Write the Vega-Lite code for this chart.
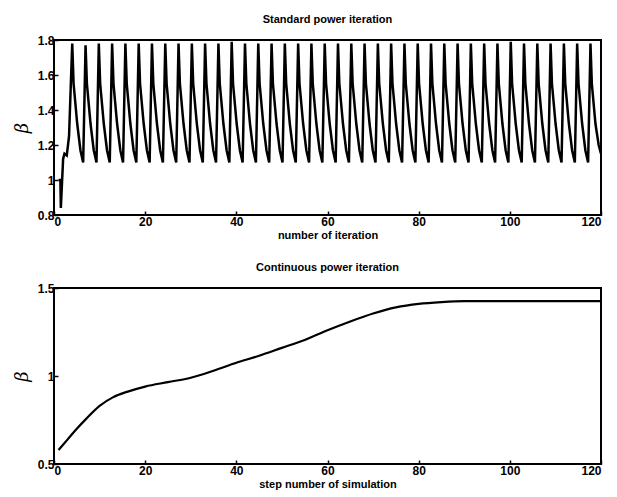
{
  "$schema": "https://vega.github.io/schema/vega-lite/v6.json",
  "background": "white",
  "padding": {"left": 12, "top": 13, "right": 4, "bottom": 0},
  "config": {
    "view": {"stroke": "black", "strokeWidth": 2},
    "font": "Liberation Sans",
    "axis": {
      "grid": false, "domain": false,
      "labelFont": "Liberation Sans", "labelFontWeight": "bold", "labelFontSize": 12, "labelColor": "black",
      "tickColor": "black", "tickSize": -4, "tickWidth": 1.5,
      "titleColor": "black", "titleFont": "Liberation Sans", "titleFontWeight": "bold", "titleFontSize": 11
    },
    "axisY": {"titleFont": "DejaVu Serif", "titleFontStyle": "italic", "titleFontSize": 18, "titleFontWeight": "normal", "titlePadding": 6, "labelPadding": 4},
    "axisX": {"titlePadding": 2, "labelPadding": 5},
    "title": {"fontSize": 11, "fontWeight": "bold", "color": "black", "font": "Liberation Sans", "offset": 9},
    "concat": {"spacing": 20}
  },
  "vconcat": [
    {
      "width": 547, "height": 175,
      "title": "Standard power iteration",
      "data": {"values": [
        {"x": 1.0, "y": 1.0}, {"x": 1.4, "y": 1.0}, {"x": 1.5, "y": 0.84}, {"x": 2.0, "y": 1.12}, {"x": 2.3, "y": 1.15}, {"x": 2.8, "y": 1.14}, {"x": 3.3, "y": 1.25},
        {"x": 4.00, "y": 1.78}, {"x": 4.30, "y": 1.55}, {"x": 5.10, "y": 1.32}, {"x": 5.80, "y": 1.17}, {"x": 6.40, "y": 1.10},
        {"x": 6.92, "y": 1.77}, {"x": 7.22, "y": 1.55}, {"x": 8.02, "y": 1.32}, {"x": 8.72, "y": 1.17}, {"x": 9.32, "y": 1.10},
        {"x": 9.83, "y": 1.78}, {"x": 10.13, "y": 1.55}, {"x": 10.93, "y": 1.32}, {"x": 11.63, "y": 1.17}, {"x": 12.23, "y": 1.10},
        {"x": 12.75, "y": 1.78}, {"x": 13.05, "y": 1.55}, {"x": 13.85, "y": 1.32}, {"x": 14.55, "y": 1.17}, {"x": 15.15, "y": 1.10},
        {"x": 15.66, "y": 1.78}, {"x": 15.96, "y": 1.55}, {"x": 16.76, "y": 1.32}, {"x": 17.46, "y": 1.17}, {"x": 18.06, "y": 1.10},
        {"x": 18.58, "y": 1.78}, {"x": 18.88, "y": 1.55}, {"x": 19.68, "y": 1.32}, {"x": 20.38, "y": 1.17}, {"x": 20.98, "y": 1.10},
        {"x": 21.49, "y": 1.78}, {"x": 21.79, "y": 1.55}, {"x": 22.59, "y": 1.32}, {"x": 23.29, "y": 1.17}, {"x": 23.89, "y": 1.10},
        {"x": 24.41, "y": 1.78}, {"x": 24.71, "y": 1.55}, {"x": 25.51, "y": 1.32}, {"x": 26.21, "y": 1.17}, {"x": 26.81, "y": 1.10},
        {"x": 27.32, "y": 1.78}, {"x": 27.62, "y": 1.55}, {"x": 28.42, "y": 1.32}, {"x": 29.12, "y": 1.17}, {"x": 29.72, "y": 1.10},
        {"x": 30.24, "y": 1.78}, {"x": 30.54, "y": 1.55}, {"x": 31.34, "y": 1.32}, {"x": 32.04, "y": 1.17}, {"x": 32.64, "y": 1.10},
        {"x": 33.15, "y": 1.78}, {"x": 33.45, "y": 1.55}, {"x": 34.25, "y": 1.32}, {"x": 34.95, "y": 1.17}, {"x": 35.55, "y": 1.10},
        {"x": 36.07, "y": 1.78}, {"x": 36.37, "y": 1.55}, {"x": 37.17, "y": 1.32}, {"x": 37.87, "y": 1.17}, {"x": 38.47, "y": 1.10},
        {"x": 38.98, "y": 1.79}, {"x": 39.28, "y": 1.55}, {"x": 40.08, "y": 1.32}, {"x": 40.78, "y": 1.17}, {"x": 41.38, "y": 1.10},
        {"x": 41.90, "y": 1.78}, {"x": 42.20, "y": 1.55}, {"x": 43.00, "y": 1.32}, {"x": 43.70, "y": 1.17}, {"x": 44.30, "y": 1.10},
        {"x": 44.81, "y": 1.78}, {"x": 45.11, "y": 1.55}, {"x": 45.91, "y": 1.32}, {"x": 46.61, "y": 1.17}, {"x": 47.21, "y": 1.10},
        {"x": 47.73, "y": 1.78}, {"x": 48.03, "y": 1.55}, {"x": 48.83, "y": 1.32}, {"x": 49.53, "y": 1.17}, {"x": 50.13, "y": 1.10},
        {"x": 50.64, "y": 1.78}, {"x": 50.94, "y": 1.55}, {"x": 51.74, "y": 1.32}, {"x": 52.44, "y": 1.17}, {"x": 53.04, "y": 1.10},
        {"x": 53.56, "y": 1.78}, {"x": 53.86, "y": 1.55}, {"x": 54.66, "y": 1.32}, {"x": 55.36, "y": 1.17}, {"x": 55.96, "y": 1.10},
        {"x": 56.47, "y": 1.78}, {"x": 56.77, "y": 1.55}, {"x": 57.57, "y": 1.32}, {"x": 58.27, "y": 1.17}, {"x": 58.87, "y": 1.10},
        {"x": 59.39, "y": 1.78}, {"x": 59.69, "y": 1.55}, {"x": 60.49, "y": 1.32}, {"x": 61.19, "y": 1.17}, {"x": 61.79, "y": 1.10},
        {"x": 62.30, "y": 1.78}, {"x": 62.60, "y": 1.55}, {"x": 63.40, "y": 1.32}, {"x": 64.10, "y": 1.17}, {"x": 64.70, "y": 1.10},
        {"x": 65.22, "y": 1.78}, {"x": 65.52, "y": 1.55}, {"x": 66.32, "y": 1.32}, {"x": 67.02, "y": 1.17}, {"x": 67.62, "y": 1.10},
        {"x": 68.13, "y": 1.78}, {"x": 68.43, "y": 1.55}, {"x": 69.23, "y": 1.32}, {"x": 69.93, "y": 1.17}, {"x": 70.53, "y": 1.10},
        {"x": 71.05, "y": 1.78}, {"x": 71.35, "y": 1.55}, {"x": 72.15, "y": 1.32}, {"x": 72.85, "y": 1.17}, {"x": 73.45, "y": 1.10},
        {"x": 73.96, "y": 1.78}, {"x": 74.26, "y": 1.55}, {"x": 75.06, "y": 1.32}, {"x": 75.76, "y": 1.17}, {"x": 76.36, "y": 1.10},
        {"x": 76.88, "y": 1.78}, {"x": 77.18, "y": 1.55}, {"x": 77.98, "y": 1.32}, {"x": 78.68, "y": 1.17}, {"x": 79.28, "y": 1.10},
        {"x": 79.79, "y": 1.78}, {"x": 80.09, "y": 1.55}, {"x": 80.89, "y": 1.32}, {"x": 81.59, "y": 1.17}, {"x": 82.19, "y": 1.10},
        {"x": 82.71, "y": 1.78}, {"x": 83.01, "y": 1.55}, {"x": 83.81, "y": 1.32}, {"x": 84.51, "y": 1.17}, {"x": 85.11, "y": 1.10},
        {"x": 85.62, "y": 1.78}, {"x": 85.92, "y": 1.55}, {"x": 86.72, "y": 1.32}, {"x": 87.42, "y": 1.17}, {"x": 88.02, "y": 1.10},
        {"x": 88.54, "y": 1.78}, {"x": 88.84, "y": 1.55}, {"x": 89.64, "y": 1.32}, {"x": 90.34, "y": 1.17}, {"x": 90.94, "y": 1.10},
        {"x": 91.45, "y": 1.78}, {"x": 91.75, "y": 1.55}, {"x": 92.55, "y": 1.32}, {"x": 93.25, "y": 1.17}, {"x": 93.85, "y": 1.10},
        {"x": 94.37, "y": 1.78}, {"x": 94.67, "y": 1.55}, {"x": 95.47, "y": 1.32}, {"x": 96.17, "y": 1.17}, {"x": 96.77, "y": 1.10},
        {"x": 97.28, "y": 1.78}, {"x": 97.58, "y": 1.55}, {"x": 98.38, "y": 1.32}, {"x": 99.08, "y": 1.17}, {"x": 99.68, "y": 1.10},
        {"x": 100.20, "y": 1.79}, {"x": 100.50, "y": 1.55}, {"x": 101.30, "y": 1.32}, {"x": 102.00, "y": 1.17}, {"x": 102.60, "y": 1.10},
        {"x": 103.11, "y": 1.78}, {"x": 103.41, "y": 1.55}, {"x": 104.21, "y": 1.32}, {"x": 104.91, "y": 1.17}, {"x": 105.51, "y": 1.10},
        {"x": 106.03, "y": 1.78}, {"x": 106.33, "y": 1.55}, {"x": 107.13, "y": 1.32}, {"x": 107.83, "y": 1.17}, {"x": 108.43, "y": 1.10},
        {"x": 108.94, "y": 1.78}, {"x": 109.24, "y": 1.55}, {"x": 110.04, "y": 1.32}, {"x": 110.74, "y": 1.17}, {"x": 111.34, "y": 1.10},
        {"x": 111.86, "y": 1.78}, {"x": 112.16, "y": 1.55}, {"x": 112.96, "y": 1.32}, {"x": 113.66, "y": 1.17}, {"x": 114.26, "y": 1.10},
        {"x": 114.77, "y": 1.78}, {"x": 115.07, "y": 1.55}, {"x": 115.87, "y": 1.32}, {"x": 116.57, "y": 1.17}, {"x": 117.17, "y": 1.10},
        {"x": 117.69, "y": 1.78}, {"x": 117.99, "y": 1.55}, {"x": 118.79, "y": 1.32}, {"x": 119.49, "y": 1.20}, {"x": 120.0, "y": 1.15}
      ]},
      "mark": {"type": "line", "color": "black", "strokeWidth": 2.5, "clip": true},
      "encoding": {
        "x": {"field": "x", "type": "quantitative", "scale": {"domain": [0, 120], "nice": false},
              "axis": {"values": [0, 20, 40, 60, 80, 100, 120], "format": "d", "title": "number of iteration"}},
        "y": {"field": "y", "type": "quantitative", "scale": {"domain": [0.8, 1.8], "nice": false, "zero": false},
              "axis": {"values": [0.8, 1, 1.2, 1.4, 1.6, 1.8], "format": "~r", "title": "β"}}
      }
    },
    {
      "width": 547, "height": 176,
      "title": "Continuous power iteration",
      "data": {"values": [
        {"x": 1, "y": 0.58}, {"x": 3, "y": 0.64}, {"x": 5, "y": 0.70}, {"x": 7, "y": 0.755}, {"x": 10, "y": 0.83},
        {"x": 13, "y": 0.88}, {"x": 16, "y": 0.91}, {"x": 20, "y": 0.94}, {"x": 25, "y": 0.965}, {"x": 30, "y": 0.99},
        {"x": 35, "y": 1.03}, {"x": 40, "y": 1.075}, {"x": 45, "y": 1.115}, {"x": 50, "y": 1.16}, {"x": 55, "y": 1.205},
        {"x": 60, "y": 1.26}, {"x": 65, "y": 1.31}, {"x": 70, "y": 1.355}, {"x": 75, "y": 1.39}, {"x": 80, "y": 1.41},
        {"x": 85, "y": 1.42}, {"x": 90, "y": 1.425}, {"x": 100, "y": 1.425}, {"x": 110, "y": 1.425}, {"x": 120, "y": 1.425}
      ]},
      "mark": {"type": "line", "color": "black", "strokeWidth": 2.2, "interpolate": "monotone", "clip": true},
      "encoding": {
        "x": {"field": "x", "type": "quantitative", "scale": {"domain": [0, 120], "nice": false},
              "axis": {"values": [0, 20, 40, 60, 80, 100, 120], "format": "d", "title": "step number of simulation"}},
        "y": {"field": "y", "type": "quantitative", "scale": {"domain": [0.5, 1.5], "nice": false, "zero": false},
              "axis": {"values": [0.5, 1, 1.5], "format": "~r", "title": "β"}}
      }
    }
  ]
}
